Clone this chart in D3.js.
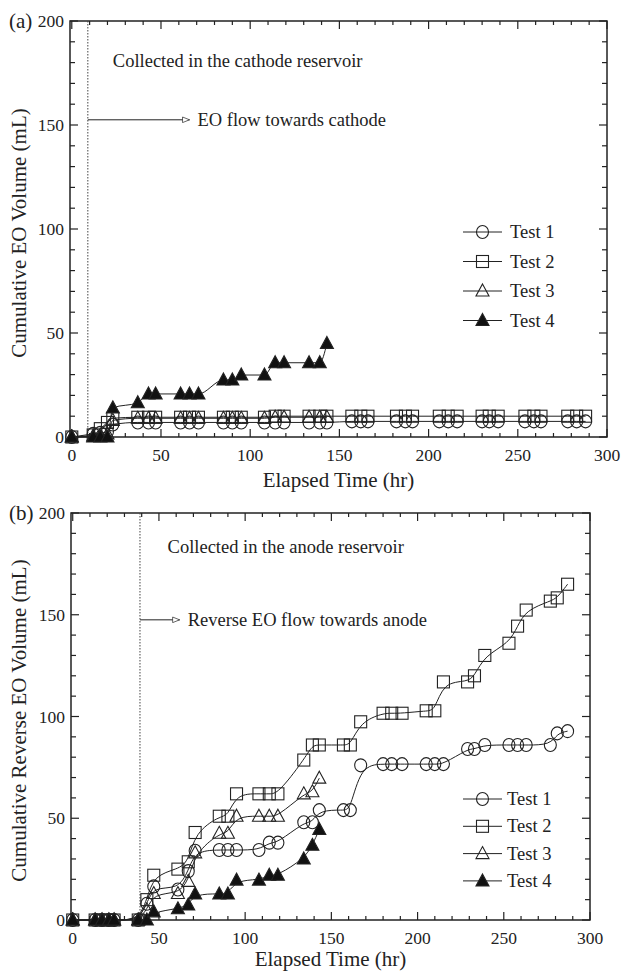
<!DOCTYPE html>
<html lang="en">
<head>
<meta charset="UTF-8">
<script src="https://cdn.jsdelivr.net/npm/d3@7"></script>
<title>EO volume</title>
<style>
  body { margin: 0; background: #fff; }
  text { font-family: "Liberation Serif", "Times New Roman", serif; fill: #222; }
</style>
</head>
<body>
<svg width="623" height="971"></svg>
<script>
// (a) cathode reservoir
const timesA = [0, 12, 16, 20, 23, 37, 43, 47, 61, 66, 71, 85, 90, 95, 108, 114, 119, 133, 139, 143,
                157, 162, 166, 182, 187, 191, 206, 211, 216, 230, 234, 239, 254, 259, 263, 278, 283, 288];
const test1A = [0, 1.5, 2, 2.5, 6, 7, 7, 7, 7, 7, 7, 7, 7, 7, 7, 7, 7, 7, 7, 7,
                7.5, 7.5, 7.5, 7.5, 7.5, 7.5, 7.5, 7.5, 7.5, 7.5, 7.5, 7.5, 7.5, 7.5, 7.5, 7.5, 7.5, 7.5];
const test2A = [0, 1, 4, 7, 9, 9.5, 9.5, 9.5, 9.5, 9.5, 9.5, 9.5, 9.5, 9.5, 9.5, 10, 10, 10, 10, 10,
                10, 10, 10, 10, 10, 10, 10, 10, 10, 10, 10, 10, 10, 10, 10, 10, 10, 10];
const test3A = [0, 0.5, 1, 1.5, 8, 9, 9, 9, 9, 9, 9, 9, 9, 9, 9, 9.5, 9.5, 9.5, 9.5, 9.5];
const test4A = [0, 0, 0, 0, 14, 16.5, 20.7, 20.7, 20.7, 20.7, 20.7, 27.4, 27.4, 29.8, 29.8, 35.7, 35.7, 35.7, 35.7, 45];

// (b) anode reservoir
const timesB = [0, 13, 17, 21, 24, 38, 43, 47, 61, 67, 71, 85, 90, 95, 108, 114, 119, 134, 139, 143,
                157, 161, 167, 180, 185, 191, 205, 210, 215, 229, 233, 239, 253, 258, 263, 277, 281, 287];
const test1B = [0, 0, 0, 0, 0, 0, 8, 16.5, 15, 24, 34, 34.4, 34.4, 34.4, 34.4, 38, 38, 48, 48, 54,
                54, 54, 76, 76.6, 76.6, 76.6, 76.6, 76.6, 76.6, 84, 84, 86, 86, 86, 86, 86, 91.7, 92.8];
const test2B = [0, 0, 0, 0, 0, 0, 10, 22, 25, 28.6, 43, 51, 51, 62, 62, 62, 62, 78.6, 86, 86,
                86, 86, 97.4, 101.6, 101.6, 101.6, 102.8, 102.8, 117, 117, 120, 130, 136, 144.4, 152.3, 156.7, 158.3, 165];
const test3B = [0, 0, 0, 0, 0, 0, 5, 13, 13, 19, 33, 42.6, 42.6, 51, 51, 51, 51, 62, 63, 69.7];
const test4B = [0, 0, 0, 0, 0, 0, 0, 4, 5.5, 7.4, 12.8, 12.8, 12.8, 19.6, 19.6, 22, 22, 30, 36.7, 44.5];

const legendNames = ['Test 1', 'Test 2', 'Test 3', 'Test 4'];
const symbols = ['circle', 'square', 'triangle', 'filledTriangle'];

const svg = d3.select('svg');

svg.append('defs').append('marker')
    .attr('id', 'arrow')
    .attr('viewBox', '0 0 10 10')
    .attr('refX', 10).attr('refY', 5)
    .attr('markerWidth', 12).attr('markerHeight', 7)
    .attr('markerUnits', 'userSpaceOnUse')
    .attr('orient', 'auto')
    .append('path')
    .attr('d', 'M0,1 L10,5 L0,9 Z')
    .attr('fill', '#fff').attr('stroke', '#222').attr('stroke-width', 1);

function drawMarker(g, type, x, y) {
    if (type === 'circle') {
        g.append('ellipse').attr('cx', x).attr('cy', y).attr('rx', 6).attr('ry', 6.5)
            .attr('fill', 'none').attr('stroke', '#222').attr('stroke-width', 1.1);
    } else if (type === 'square') {
        g.append('rect').attr('x', x - 6).attr('y', y - 6).attr('width', 12).attr('height', 12)
            .attr('fill', 'none').attr('stroke', '#222').attr('stroke-width', 1.1);
    } else {
        const p = `M${x},${y - 7} L${x + 6.5},${y + 5} L${x - 6.5},${y + 5} Z`;
        g.append('path').attr('d', p)
            .attr('fill', type === 'filledTriangle' ? '#111' : 'none')
            .attr('stroke', '#222').attr('stroke-width', 1.1);
    }
}

function panel(opt) {
    const x = d3.scaleLinear().domain([-1, 300]).range([opt.left, opt.right]);
    const y = d3.scaleLinear().domain([0, 200]).range([opt.bottom, opt.top]);
    const g = svg.append('g');

    // ticks, all pointing inward on four sides
    const major = d3.range(0, 301, 50), minorX = d3.range(10, 300, 10).filter(d => d % 50);
    const majorY = d3.range(0, 201, 50), minorY = d3.range(10, 200, 10).filter(d => d % 50);
    const tk = g.append('g').attr('stroke', '#222').attr('stroke-width', 1.2);
    major.forEach(d => {
        tk.append('line').attr('x1', x(d)).attr('x2', x(d)).attr('y1', opt.bottom).attr('y2', opt.bottom - 8);
        tk.append('line').attr('x1', x(d)).attr('x2', x(d)).attr('y1', opt.top).attr('y2', opt.top + 8);
    });
    minorX.forEach(d => {
        tk.append('line').attr('x1', x(d)).attr('x2', x(d)).attr('y1', opt.bottom).attr('y2', opt.bottom - 4);
        tk.append('line').attr('x1', x(d)).attr('x2', x(d)).attr('y1', opt.top).attr('y2', opt.top + 4);
    });
    majorY.forEach(d => {
        tk.append('line').attr('x1', opt.left).attr('x2', opt.left + 8).attr('y1', y(d)).attr('y2', y(d));
        tk.append('line').attr('x1', opt.right).attr('x2', opt.right - 8).attr('y1', y(d)).attr('y2', y(d));
    });
    minorY.forEach(d => {
        tk.append('line').attr('x1', opt.left).attr('x2', opt.left + 5).attr('y1', y(d)).attr('y2', y(d));
        tk.append('line').attr('x1', opt.right).attr('x2', opt.right - 5).attr('y1', y(d)).attr('y2', y(d));
    });

    g.append('rect')
        .attr('x', opt.left).attr('y', opt.top)
        .attr('width', opt.right - opt.left).attr('height', opt.bottom - opt.top)
        .attr('fill', 'none').attr('stroke', '#222').attr('stroke-width', 1.5);

    // tick labels
    g.append('g').selectAll('text').data(major).enter().append('text')
        .attr('x', d => x(d)).attr('y', opt.bottom + 24)
        .attr('text-anchor', 'middle').attr('font-size', 17.5)
        .text(d => d);
    g.append('g').selectAll('text').data(majorY).enter().append('text')
        .attr('x', opt.left - 6).attr('y', d => y(d) + 6)
        .attr('text-anchor', 'end').attr('font-size', 17.5)
        .text(d => d);

    // axis titles
    g.append('text')
        .attr('x', (opt.left + opt.right) / 2).attr('y', opt.bottom + opt.xTitleGap)
        .attr('text-anchor', 'middle').attr('font-size', 21)
        .text('Elapsed Time (hr)');
    g.append('text')
        .attr('transform', `translate(26,${(opt.top + opt.bottom) / 2 + 4}) rotate(-90)`)
        .attr('text-anchor', 'middle').attr('font-size', 21)
        .text(opt.ylabel);
    g.append('text')
        .attr('x', 9).attr('y', opt.top + 7)
        .attr('font-size', 21)
        .text(opt.tag);

    // dotted start line and annotations
    g.append('line')
        .attr('x1', x(opt.start)).attr('x2', x(opt.start))
        .attr('y1', opt.top).attr('y2', opt.bottom)
        .attr('stroke', '#444').attr('stroke-width', 1).attr('stroke-dasharray', '1.5,1.5');
    g.append('text')
        .attr('x', x(opt.noteX)).attr('y', y(opt.noteY))
        .attr('font-size', 18.5)
        .text(opt.note);
    g.append('line')
        .attr('x1', x(opt.start)).attr('x2', x(opt.arrowEnd))
        .attr('y1', y(opt.arrowY)).attr('y2', y(opt.arrowY))
        .attr('stroke', '#222').attr('stroke-width', 1)
        .attr('marker-end', 'url(#arrow)');
    g.append('text')
        .attr('x', x(opt.arrowEnd) + 8).attr('y', y(opt.arrowY) + 6)
        .attr('font-size', 18.5)
        .text(opt.arrowText);

    // series
    const line = d3.line()
        .x(d => x(d[0])).y(d => y(d[1]))
        .curve(opt.curve);
    opt.series.forEach((s, i) => {
        const pts = s.map((v, k) => [opt.times[k], v]);
        g.append('path').attr('d', line(pts))
            .attr('fill', 'none').attr('stroke', '#222').attr('stroke-width', 1);
        const mg = g.append('g');
        pts.forEach(p => drawMarker(mg, symbols[i], x(p[0]), y(p[1])));
    });

    // legend
    legendNames.forEach((name, i) => {
        const ly = opt.legendY + i * opt.legendGap;
        g.append('line')
            .attr('x1', 463).attr('x2', 502).attr('y1', ly).attr('y2', ly)
            .attr('stroke', '#222').attr('stroke-width', 1);
        drawMarker(g, symbols[i], 482.5, ly);
        g.append('text')
            .attr('x', opt.legendText).attr('y', ly + 6)
            .attr('font-size', 18.5)
            .text(name);
    });
}

panel({
    left: 70, right: 607, top: 21, bottom: 437,
    tag: '(a)', ylabel: 'Cumulative EO Volume (mL)', xTitleGap: 50,
    start: 9, note: 'Collected in the cathode reservoir', noteX: 23, noteY: 178,
    arrowY: 152.5, arrowEnd: 66, arrowText: 'EO flow towards cathode',
    times: timesA, series: [test1A, test2A, test3A, test4A],
    curve: d3.curveMonotoneX,
    legendY: 232, legendGap: 29.5, legendText: 510
});

panel({
    left: 71, right: 590, top: 513, bottom: 920,
    tag: '(b)', ylabel: 'Cumulative Reverse EO Volume (mL)', xTitleGap: 46,
    start: 39, note: 'Collected in the anode reservoir', noteX: 55, noteY: 180.5,
    arrowY: 147.5, arrowEnd: 62, arrowText: 'Reverse EO flow towards anode',
    times: timesB, series: [test1B, test2B, test3B, test4B],
    curve: d3.curveBasis,
    legendY: 799, legendGap: 27.3, legendText: 507
});
</script>
</body>
</html>
